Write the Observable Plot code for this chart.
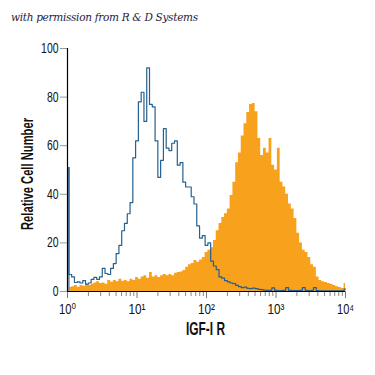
<!DOCTYPE html>
<html>
<head>
<meta charset="utf-8">
<script src="https://cdn.jsdelivr.net/npm/d3@7"></script>
<script src="https://cdn.jsdelivr.net/npm/@observablehq/plot@0.6"></script>
<style>
  html, body { margin: 0; padding: 0; background: #fff; }
  #wrap { position: relative; width: 375px; height: 375px; overflow: hidden; }
  #credit { position: absolute; left: 11px; top: 11px; font-family: "DejaVu Serif", "Liberation Serif", serif; font-style: italic; font-size: 10.5px; color: #1c1c44; letter-spacing: -0.3px; }
  svg { font-family: "Liberation Sans", "DejaVu Sans", sans-serif; }
</style>
</head>
<body>
<div id="wrap"><div id="credit">with permission from R &amp; D Systems</div></div>
<script>
// Channel step in log10 units (bins from 10^0 to 10^4)
const binStep = 0.04;

// Isotype control (blue outline), relative cell number per channel
const controlCounts = [
  51, 7, 6, 3.7, 4, 3.5, 4.5, 3, 3.5, 5,
  5.8, 5, 6, 9.5, 7.4, 7, 9.5, 11.5, 15.6, 19,
  25, 28, 32, 36.6, 55, 62, 78, 82, 70, 92,
  77, 76, 62, 47, 54, 67, 59, 58, 61, 62,
  52, 53, 45, 43, 43, 39, 36, 27, 22, 23,
  19, 20, 12.5, 10.5, 9, 6, 5.5, 4.5, 4, 3.5,
  3.2, 2.5, 2, 1.6, 1.8, 1.3, 1.2, 1.4, 1.2, 0.9,
  0.8, 0.6, 0.5, 0.5, 1.5, 0.5, 0.4, 0.4, 0.5, 1.6,
  0.5, 0.4, 0.4, 0.4, 0.5, 1.6, 0.5, 0.4, 0.5, 1.6,
  0.4, 0.3, 0.3, 0.3, 0.3, 0.3, 0.3, 0.3, 0.3, 0.3,
  1
];

// IGF-I R stained cells (orange filled), relative cell number per channel
const stainedCounts = [
  1.5, 1.6, 2, 2.5, 1.8, 2.5, 2.2, 2.8, 2.5, 3,
  3.5, 4, 3.3, 3.5, 3, 4.5, 3.8, 4.5, 4, 5,
  4.2, 4.5, 4, 5, 4.5, 5.8, 5, 6, 6.5, 5.5,
  7.8, 6, 6.5, 5.8, 6.5, 7, 6.5, 7, 6.5, 7.5,
  7.8, 8, 8.6, 10, 11, 11.5, 12.8, 12, 13, 14,
  16, 17, 18, 21, 25, 28, 30.5, 32, 34, 39.5,
  45, 53, 57, 64, 69, 73.7, 77, 77.4, 74, 63,
  56, 59, 57, 63, 52, 50, 59, 45, 43, 40,
  36, 34, 30, 24, 20, 17, 16, 14, 11, 10,
  6, 4.5, 4, 3.7, 3.3, 3, 2.5, 2, 1.6, 1.2,
  3.3
];

const yTicks = [0, 20, 40, 60, 80, 100];
const xMajorTicks = [1, 10, 100, 1000, 10000];
const xMajorLabels = ["10\u2070", "10\u00b9", "10\u00b2", "10\u00b3", "10\u2074"];
const xLabel = "IGF-I R";
const yLabel = "Relative Cell Number";

const control = controlCounts.map((v, i) => ({x: Math.pow(10, i * binStep), y: v}));
const stained = stainedCounts.map((v, i) => ({x: Math.pow(10, i * binStep), y: v}));
const firstBin = [{x1: 1, x2: Math.pow(10, 0.04), y: controlCounts[0]}];

const minorTicks = [];
for (let e = 0; e < 4; e++) for (let m = 2; m <= 9; m++) minorTicks.push(m * Math.pow(10, e));

const chart = Plot.plot({
  width: 375,
  height: 375,
  marginTop: 48,
  marginBottom: 84,
  marginLeft: 67,
  marginRight: 30,
  style: {fontSize: "14px", color: "#111"},
  x: {type: "log", domain: [1, 10000]},
  y: {domain: [0, 100]},
  marks: [
    Plot.areaY(stained, {x: "x", y: "y", curve: "step", fill: "#F7A11C"}),
    Plot.rectY(firstBin, {x1: "x1", x2: "x2", y: "y", fill: "#8199b0"}),
    Plot.line(control, {x: "x", y: "y", curve: "step", stroke: "#25608f", strokeWidth: 1.2}),
    Plot.axisX({ticks: minorTicks, tickFormat: () => "", tickSize: 5, stroke: "#888"}),
    Plot.axisX({ticks: xMajorTicks, tickFormat: (d) => xMajorLabels[xMajorTicks.indexOf(d)], tickSize: 7, tickPadding: 5, stroke: "#777", label: null, fontSize: 15, className: "xmaj"}),
    Plot.axisY({ticks: yTicks, tickSize: 7, tickPadding: 2, stroke: "#999", label: null, fontSize: 14, className: "ymaj"}),
    Plot.ruleX([1], {stroke: "#000", strokeWidth: 1.2}),
    Plot.ruleY([0], {stroke: "#000", strokeWidth: 1.2}),
    Plot.text([yLabel], {frameAnchor: "left", textAnchor: "middle", dx: -40, dy: 4, rotate: -90, fontSize: 17, fontWeight: "bold", fill: "#111", className: "ylab"}),
    Plot.text([xLabel], {frameAnchor: "bottom", dy: 43, dx: -1, fontSize: 18, fontWeight: "bold", fill: "#111", className: "xlab"})
  ]
});
document.getElementById("wrap").appendChild(chart);
chart.style.position = "absolute";
chart.style.left = "0";
chart.style.top = "0";

// Condense text to mimic the narrow typeface of the original
function squeeze(sel, fn) {
  d3.select(chart).selectAll(sel).each(function () {
    const t = this.textContent;
    const w = fn(t);
    if (w) { this.setAttribute("textLength", w); this.setAttribute("lengthAdjust", "spacingAndGlyphs"); }
  });
}
squeeze(".ylab text", () => 112);
squeeze(".xlab text", () => 39);
squeeze(".ymaj text", (t) => t.length * 5.8);
squeeze(".xmaj text", () => 17);
</script>
</body>
</html>
